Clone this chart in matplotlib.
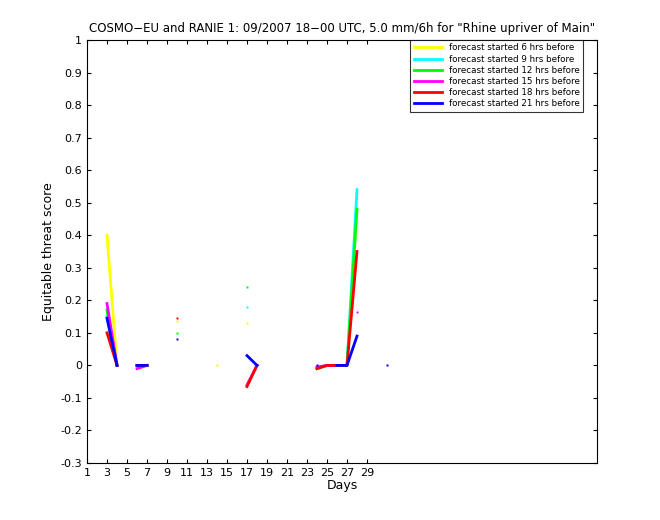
import numpy as np
import matplotlib
matplotlib.use("Agg")
import matplotlib.pyplot as plt

n = np.nan
days = list(range(1, 32))
def s(d):
    arr = [n]*31
    for k, v in d.items():
        arr[k-1] = v
    return arr

labels = ["forecast started 6 hrs before", "forecast started 9 hrs before",
          "forecast started 12 hrs before", "forecast started 15 hrs before",
          "forecast started 18 hrs before", "forecast started 21 hrs before"]
colors = ["#ffff00", "#00ffff", "#00ff00", "#ff00ff", "#ff0000", "#0000ff"]
yellow = s({3: 0.40, 4: 0.0, 10: 0.135, 14: 0.0, 17: 0.13})
cyan = s({3: 0.15, 4: 0.0, 6: 0.0, 7: 0.0, 17: 0.18, 24: -0.01, 25: 0.0, 26: 0.0, 27: 0.0, 28: 0.54})
green = s({3: 0.17, 4: 0.0, 6: 0.0, 7: 0.0, 10: 0.10, 17: 0.24, 24: -0.01, 25: 0.0, 26: 0.0, 27: 0.0, 28: 0.48})
magenta = s({3: 0.19, 4: 0.0, 6: -0.01, 7: 0.0, 17: -0.06, 18: 0.0, 24: -0.005, 25: 0.0, 26: 0.0, 28: 0.165})
red = s({3: 0.10, 4: 0.0, 6: 0.0, 7: 0.0, 10: 0.145, 17: -0.065, 18: 0.0, 24: -0.01, 25: 0.0, 26: 0.0, 27: 0.0, 28: 0.35})
blue = s({3: 0.145, 4: 0.0, 6: 0.0, 7: 0.0, 10: 0.08, 17: 0.03, 18: 0.0, 24: 0.0, 26: 0.0, 27: 0.0, 28: 0.09, 31: 0.0})
series = [yellow, cyan, green, magenta, red, blue]

fig = plt.figure(figsize=(6.6, 5.2), dpi=100)
ax = fig.add_axes([87/660, 57/520, 510/660, 423/520])
x = np.array(days, float)
for ys, c, lab in zip(series, colors, labels):
    y = np.array(ys, float)
    ax.plot(x, y, color=c, lw=2, label=lab)
    for i in range(len(y)):
        if not np.isnan(y[i]) and (i == 0 or np.isnan(y[i-1])) and (i == len(y)-1 or np.isnan(y[i+1])):
            ax.plot([x[i]], [y[i]], 's', color=c, ms=2, mec='none')
ax.set_xlim(1, 52)
ax.set_ylim(-0.3, 1)
ax.set_xticks(range(1, 30, 2))
ax.set_yticks(np.round(np.arange(-0.3, 1.01, 0.1), 1))
ax.set_yticklabels([("%g" % v) for v in np.round(np.arange(-0.3, 1.01, 0.1), 1)])
ax.tick_params(labelsize=8, direction='in', top=True, right=True, length=3)
ax.set_xlabel("Days", fontsize=9, labelpad=1)
ax.set_ylabel("Equitable threat score", fontsize=9)
ax.set_title('COSMO\u2212EU and RANIE 1: 09/2007 18\u221200 UTC, 5.0 mm/6h for "Rhine upriver of Main"', fontsize=8.5)
leg = ax.legend(loc='upper right', bbox_to_anchor=(583/660, 480/520), bbox_transform=fig.transFigure,
                fontsize=6.3, frameon=True, fancybox=False, edgecolor='black',
                borderaxespad=0, handlelength=3.2, labelspacing=0.25, borderpad=0.4)
leg.get_frame().set_linewidth(0.8)
fig.savefig("out.png", dpi=100)
